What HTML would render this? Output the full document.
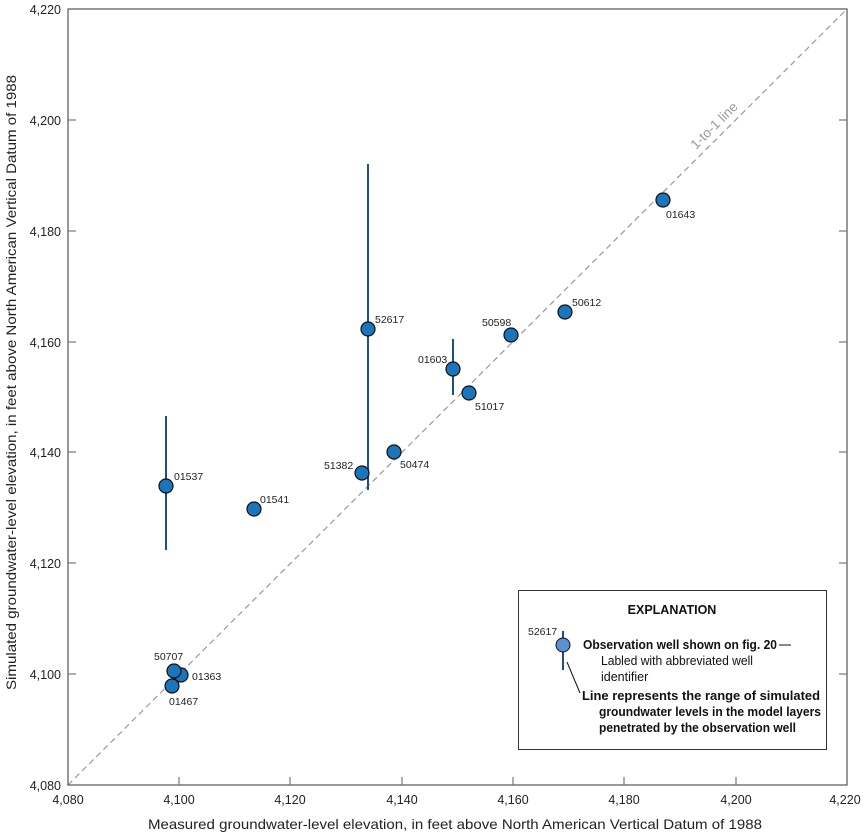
<!DOCTYPE html>
<html><head><meta charset="utf-8"><style>
body{margin:0;background:#fff}
svg{display:block;font-family:"Liberation Sans",Arial,sans-serif}
</style></head><body>
<svg width="863" height="837" viewBox="0 0 863 837" xmlns="http://www.w3.org/2000/svg">
<rect width="863" height="837" fill="#fff"/>
<line x1="68" y1="785" x2="847" y2="9" stroke="#999" stroke-width="1.2" stroke-dasharray="6,4"/>
<text x="0" y="0" font-size="13.5" fill="#999" transform="translate(696,150) rotate(-44.9)">1-to-1 line</text>
<rect x="68" y="9" width="779" height="776" fill="none" stroke="#555" stroke-width="1.2"/>
<g stroke="#777" stroke-width="1.2">
<line x1="179" y1="785" x2="179" y2="777"/><line x1="290" y1="785" x2="290" y2="777"/><line x1="402" y1="785" x2="402" y2="777"/><line x1="513" y1="785" x2="513" y2="777"/><line x1="624" y1="785" x2="624" y2="777"/><line x1="736" y1="785" x2="736" y2="777"/>
<line x1="68" y1="120" x2="76" y2="120"/><line x1="68" y1="231" x2="76" y2="231"/><line x1="68" y1="342" x2="76" y2="342"/><line x1="68" y1="452" x2="76" y2="452"/><line x1="68" y1="563" x2="76" y2="563"/><line x1="68" y1="674" x2="76" y2="674"/>
<line x1="847" y1="120" x2="839" y2="120"/><line x1="847" y1="231" x2="839" y2="231"/><line x1="847" y1="342" x2="839" y2="342"/><line x1="847" y1="452" x2="839" y2="452"/><line x1="847" y1="563" x2="839" y2="563"/><line x1="847" y1="674" x2="839" y2="674"/>
</g>
<g font-size="12.5" fill="#222" text-anchor="end">
<text x="61" y="14">4,220</text><text x="61" y="125">4,200</text><text x="61" y="236">4,180</text><text x="61" y="347">4,160</text><text x="61" y="457">4,140</text><text x="61" y="568">4,120</text><text x="61" y="679">4,100</text><text x="61" y="790">4,080</text>
</g>
<g font-size="12.5" fill="#222" text-anchor="middle">
<text x="68" y="804">4,080</text><text x="179" y="804">4,100</text><text x="290" y="804">4,120</text><text x="402" y="804">4,140</text><text x="513" y="804">4,160</text><text x="624" y="804">4,180</text><text x="736" y="804">4,200</text><text x="845" y="804">4,220</text>
</g>
<text x="148" y="829" font-size="14" fill="#222" textLength="614" lengthAdjust="spacingAndGlyphs">Measured groundwater-level elevation, in feet above North American Vertical Datum of 1988</text>
<text transform="translate(16,690) rotate(-90)" font-size="14" fill="#222" textLength="615" lengthAdjust="spacingAndGlyphs">Simulated groundwater-level elevation, in feet above North American Vertical Datum of 1988</text>
<g stroke="#1f4e8c" stroke-width="2">
<line x1="453" y1="339" x2="453" y2="395"/>
<line x1="368" y1="164" x2="368" y2="490"/>
<line x1="166" y1="416" x2="166" y2="550"/>
</g>
<g fill="#1b75bb" stroke="#111" stroke-width="1.2">
<circle cx="663" cy="200" r="7"/><circle cx="565" cy="312" r="7"/><circle cx="511" cy="335" r="7"/>
<circle cx="453" cy="369" r="7"/><circle cx="469" cy="393" r="7"/><circle cx="368" cy="329" r="7"/>
<circle cx="394" cy="452" r="7"/><circle cx="362" cy="473" r="7"/><circle cx="166" cy="486" r="7"/>
<circle cx="254" cy="509" r="7"/><circle cx="181" cy="675" r="7"/><circle cx="174" cy="671" r="7"/><circle cx="172" cy="686" r="7"/>
</g>
<g font-size="10.5" fill="#222">
<text x="666" y="218">01643</text><text x="572" y="306">50612</text><text x="482" y="326">50598</text>
<text x="418" y="363">01603</text><text x="475" y="410">51017</text><text x="375" y="323">52617</text>
<text x="400" y="468">50474</text><text x="324" y="469">51382</text><text x="174" y="480">01537</text>
<text x="260" y="503">01541</text><text x="154" y="660">50707</text><text x="192" y="680">01363</text><text x="169" y="705">01467</text>
</g>
<rect x="518.5" y="590.5" width="308" height="159" fill="#fff" stroke="#333" stroke-width="1"/>
<text x="672" y="614" font-size="12.5" font-weight="bold" fill="#111" text-anchor="middle">EXPLANATION</text>
<line x1="563" y1="631" x2="563" y2="670" stroke="#1f4e8c" stroke-width="2"/>
<circle cx="563" cy="645" r="7" fill="#5b8fd6" stroke="#111" stroke-width="1"/>
<text x="528" y="635" font-size="10.5" fill="#222">52617</text>
<line x1="567" y1="662" x2="580" y2="693" stroke="#111" stroke-width="1"/>
<g font-size="12.5" fill="#111">
<text x="583" y="649" font-weight="bold" textLength="194" lengthAdjust="spacingAndGlyphs">Observation well shown on fig. 20</text>
<line x1="779" y1="645" x2="791" y2="645" stroke="#111"/>
<text x="601" y="665" textLength="152" lengthAdjust="spacingAndGlyphs">Labled with abbreviated well</text>
<text x="601" y="681">identifier</text>
<text x="582" y="700" font-weight="bold" textLength="238" lengthAdjust="spacingAndGlyphs">Line represents the range of simulated</text>
<text x="599" y="716" font-weight="bold" textLength="222" lengthAdjust="spacingAndGlyphs">groundwater levels in the model layers</text>
<text x="599" y="732" font-weight="bold" textLength="197" lengthAdjust="spacingAndGlyphs">penetrated by the observation well</text>
</g>
</svg>
</body></html>
